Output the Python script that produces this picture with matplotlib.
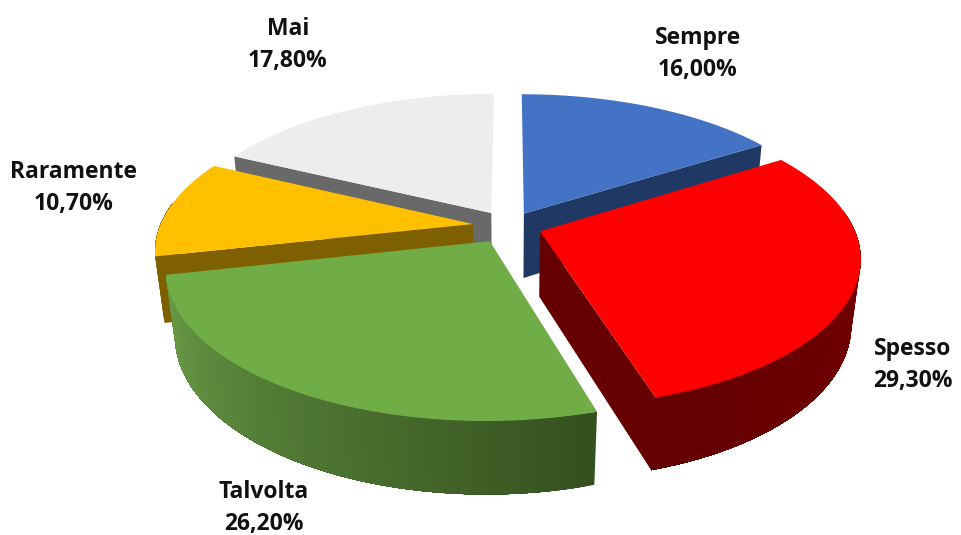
import numpy as np
import matplotlib
matplotlib.use('Agg')
import matplotlib.pyplot as plt

# data, clockwise from 12 o'clock
labels = ['Sempre', 'Spesso', 'Talvolta', 'Raramente', 'Mai']
values = [16.0, 29.3, 26.2, 10.7, 17.8]
explode = [0.10, 0.105, 0.12, 0.116, 0.108]

top_colors = ['#4472C4', '#FF0000', '#70AD47', '#FFC000', '#EDEDED']
cut_colors = ['#203864', '#660000', '#5A8A3A', '#7F6000', '#696969']
# arc shading, left end to right end of the visible side
arc_left = ['#203864', '#640000', '#6B9F48', '#7F6000', '#696969']
arc_right = ['#203864', '#7A0000', '#34501F', '#7F6000', '#696969']

label_pos = [(698, 54), (913, 365), (264, 508), (74, 188), (288, 45)]
draw_order = [4, 0, 3, 1, 2]

# pie geometry in pixels
CX, CY = 509, 226
R = 313
DEPTH = 0.24
PERSP = 0.17
PERSP_Z = 0.11
ELEV = np.arcsin(0.4586)


def project(x, y, z):
    # x right, y to the back, z up, all in pie radii
    s = 1 / (1 + PERSP * y - PERSP_Z * z)
    return CX + R * s * x, CY - R * s * (y * np.sin(ELEV) + z * np.cos(ELEV))


def hex_rgb(c):
    return np.array(matplotlib.colors.to_rgb(c))


fig = plt.figure(figsize=(9.61, 5.35), dpi=100)
ax = fig.add_axes([0, 0, 1, 1])
ax.set_xlim(0, 961)
ax.set_ylim(535, 0)
ax.axis('off')

edges = np.concatenate([[0], np.cumsum(values)]) / np.sum(values) * 2 * np.pi

for i in draw_order:
    t0, t1 = edges[i], edges[i + 1]
    mid = (t0 + t1) / 2
    ox, oy = explode[i] * np.sin(mid), explode[i] * np.cos(mid)
    t = np.linspace(t0, t1, 120)
    ax_x, ax_y = ox + np.sin(t), oy + np.cos(t)

    # cut faces, only the ones turned towards the viewer
    faces = []
    if np.sin(t0) < -1e-9:
        faces.append(t0)
    if np.sin(t1) > 1e-9:
        faces.append(t1)
    for a in faces:
        px = np.array([ox, ox + np.sin(a), ox + np.sin(a), ox])
        py = np.array([oy, oy + np.cos(a), oy + np.cos(a), oy])
        pz = np.array([0, 0, -DEPTH, -DEPTH])
        sx, sy = project(px, py, pz)
        ax.fill(sx, sy, color=cut_colors[i], lw=0)

    # outer side, strips overlap each other so no seams show
    xs_top, ys_top = project(ax_x, ax_y, 0)
    xs_bot, ys_bot = project(ax_x, ax_y, -DEPTH)
    vis = np.where(np.cos(t) <= 0.15)[0]
    for k in vis:
        f = (t1 - t[k]) / (t1 - t0)
        col = (1 - f) * hex_rgb(arc_left[i]) + f * hex_rgb(arc_right[i])
        # from this step to the end of the visible arc, later strips paint over
        run = vis[vis >= k]
        ax.fill(np.r_[xs_top[run], xs_bot[run][::-1]],
                np.r_[ys_top[run], ys_bot[run][::-1]],
                color=col, lw=0)

    # top face
    vx, vy = project(ox, oy, 0)
    ax.fill(np.r_[vx, xs_top], np.r_[vy, ys_top], color=top_colors[i], lw=0)

# labels, comma as decimal sign
for name, v, (lx, ly) in zip(labels, values, label_pos):
    txt = name + '\n' + f'{v:.2f}'.replace('.', ',') + '%'
    ax.text(lx, ly, txt, ha='center', va='center', fontsize=16.5, fontweight='bold',
            family='Open Sans', color='#111111', linespacing=1.47)

fig.savefig('out.png', dpi=100)
